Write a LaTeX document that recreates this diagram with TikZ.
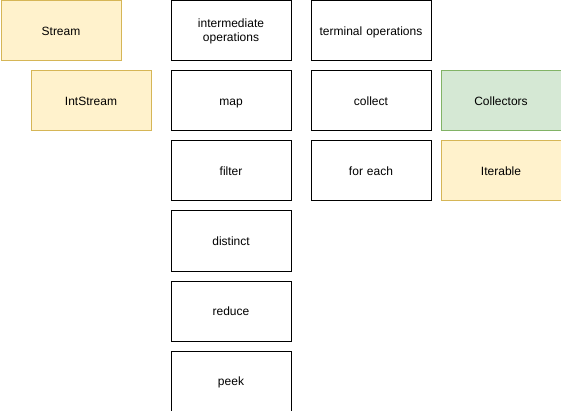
\documentclass[tikz,border=0pt]{standalone}
\usepackage{fontspec}
\setmainfont{Liberation Sans}
\definecolor{yfill}{HTML}{FFF2CC}
\definecolor{ystroke}{HTML}{D6B656}
\definecolor{gfill}{HTML}{D5E8D4}
\definecolor{gstroke}{HTML}{82B366}
\begin{document}
\begin{tikzpicture}[x=1pt,y=-1pt,
  box/.style={draw=black,line width=1pt,minimum width=120pt,minimum height=60pt,inner sep=0pt,anchor=north west,align=center,font=\fontsize{12}{14}\selectfont,text width=110pt},
  one/.style={text height=8.6pt,text depth=0pt},
  ybox/.style={box,one,draw=ystroke,fill=yfill},
  gbox/.style={box,one,draw=gstroke,fill=gfill}]
\useasboundingbox (0,0) rectangle (561,411);
\node[ybox] (stream) at (0.5,0.5) {Stream};
\node[ybox] (intstream) at (30.5,70.5) {IntStream};
\node[box] (inter) at (170.5,0.5) {intermediate\\operations};
\node[box,one] (map) at (170.5,70.5) {map};
\node[box,one] (filter) at (170.5,140.5) {filter};
\node[box,one] (distinct) at (170.5,210.5) {distinct};
\node[box,one] (reduce) at (170.5,280.5) {reduce};
\node[box,one] (peek) at (170.5,350.5) {peek};
\node[box,one] (terminal) at (310.5,0.5) {terminal operations};
\node[box,one] (collect) at (310.5,70.5) {collect};
\node[box,one] (foreach) at (310.5,140.5) {for each};
\node[gbox] (collectors) at (440.5,70.5) {Collectors};
\node[ybox] (iterable) at (440.5,140.5) {Iterable};
\end{tikzpicture}
\end{document}
